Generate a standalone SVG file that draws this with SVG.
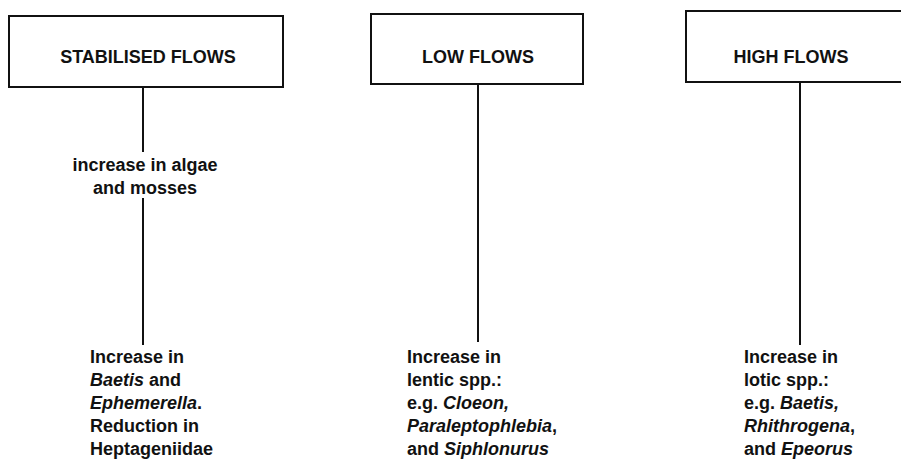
<svg xmlns="http://www.w3.org/2000/svg" width="901" height="466" viewBox="0 0 901 466">
<style>
.box{fill:#fff;stroke:#111;stroke-width:2}
.ln{stroke:#111;stroke-width:2;fill:none}
text{font-family:"Liberation Sans",Arial,sans-serif;font-size:18px;font-weight:bold;fill:#111}
.h{text-anchor:middle}
.m{text-anchor:middle}
.i{font-style:italic}
</style>
<rect width="901" height="466" fill="#fff"/>
<g id="connectors">
<line class="ln" x1="143" y1="87" x2="143" y2="152"/>
<line class="ln" x1="143" y1="198" x2="143" y2="345"/>
<line class="ln" x1="478" y1="84" x2="478" y2="342"/>
<line class="ln" x1="800" y1="82" x2="800" y2="345"/>
</g>
<g id="stabilised">
<rect class="box" x="9" y="16" width="274" height="71"/>
<text class="h" x="148" y="63">STABILISED FLOWS</text>
</g>
<g id="low">
<rect class="box" x="371" y="14" width="212" height="70"/>
<text class="h" x="478" y="63">LOW FLOWS</text>
</g>
<g id="high">
<rect class="box" x="686" y="11" width="220" height="71"/>
<text class="h" x="791" y="63">HIGH FLOWS</text>
</g>
<g id="algae">
<text class="m" x="145" y="171">increase in algae</text>
<text class="m" x="145" y="194">and mosses</text>
</g>
<g id="stab-effect">
<text x="90" y="363">Increase in</text>
<text x="90" y="386"><tspan class="i">Baetis</tspan> and</text>
<text x="90" y="409"><tspan class="i">Ephemerella</tspan>.</text>
<text x="90" y="432">Reduction in</text>
<text x="90" y="455">Heptageniidae</text>
</g>
<g id="low-effect">
<text x="407" y="363">Increase in</text>
<text x="407" y="386">lentic spp.:</text>
<text x="407" y="409">e.g. <tspan class="i">Cloeon,</tspan></text>
<text x="407" y="432"><tspan class="i">Paraleptophlebia</tspan>,</text>
<text x="407" y="455">and <tspan class="i">Siphlonurus</tspan></text>
</g>
<g id="high-effect">
<text x="744" y="363">Increase in</text>
<text x="744" y="386">lotic spp.:</text>
<text x="744" y="409">e.g. <tspan class="i">Baetis,</tspan></text>
<text x="744" y="432"><tspan class="i">Rhithrogena</tspan>,</text>
<text x="744" y="455">and <tspan class="i">Epeorus</tspan></text>
</g>
</svg>
